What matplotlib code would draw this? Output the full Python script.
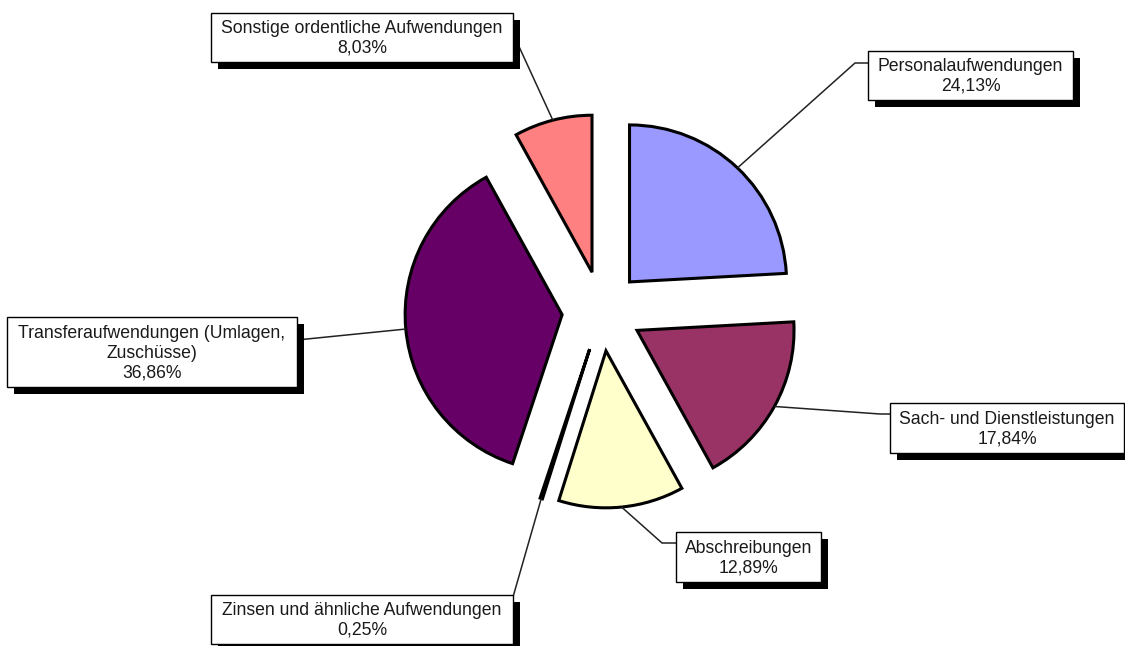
import matplotlib
matplotlib.use('Agg')
import matplotlib.pyplot as plt
from matplotlib.patches import Rectangle
import numpy as np

# ---- data ----
categories = ["Personalaufwendungen", "Sach- und Dienstleistungen", "Abschreibungen",
              "Zinsen und ähnliche Aufwendungen",
              "Transferaufwendungen (Umlagen,\nZuschüsse)",
              "Sonstige ordentliche Aufwendungen"]
values = [24.13, 17.84, 12.89, 0.25, 36.86, 8.03]
colors = ["#9999FF", "#993366", "#FFFFCC", "#CCFFFF", "#660066", "#FF8080"]

# ---- layout (pixels) ----
W, H = 1125, 646
CX, CY, R = 602, 311, 157
EXPLODE = 0.255
# label boxes: (x0, y0, x1, y1) in pixel coords (y down)
boxes = [(868, 51, 1073, 100), (890, 403, 1124, 453), (676, 532, 821, 582),
         (211, 595, 513, 644), (7, 317, 297, 387), (211, 13, 513, 62)]
via = [(855, 63), (880, 414), (662, 543), None, None, None]
ends = [(868, 63), (890, 414), (676, 543), (513, 597), (297, 340), (516, 40)]
SH = 7

fig = plt.figure(figsize=(W / 100, H / 100), dpi=100)
ax = fig.add_axes([0, 0, 1, 1])
wedges, _ = ax.pie(values, colors=colors, startangle=90, counterclock=False,
                   explode=[EXPLODE] * len(values), radius=1,
                   wedgeprops=dict(edgecolor='black', linewidth=2.2))
ax.set_aspect('auto')
ax.set_xlim(-CX / R, (W - CX) / R)
ax.set_ylim(-(H - CY) / R, CY / R)
ax.axis('off')

ax2 = fig.add_axes([0, 0, 1, 1])
ax2.set_xlim(0, W)
ax2.set_ylim(H, 0)
ax2.axis('off')
ax2.patch.set_alpha(0)

for i, w in enumerate(wedges):
    tm = np.deg2rad((w.theta1 + w.theta2) / 2)
    X = w.center[0] + w.r * np.cos(tm)
    Y = w.center[1] + w.r * np.sin(tm)
    px, py = CX + X * R, CY - Y * R
    pts = [(px, py)]
    if via[i] is not None:
        pts.append(via[i])
    pts.append(ends[i])
    xs, ys = zip(*pts)
    ax2.plot(xs, ys, color='#222222', lw=1.1, zorder=1, solid_capstyle='butt')

    x0, y0, x1, y1 = boxes[i]
    ax2.add_patch(Rectangle((x0 + SH, y0 + SH), x1 - x0, y1 - y0,
                            facecolor='black', edgecolor='none', zorder=2))
    ax2.add_patch(Rectangle((x0, y0), x1 - x0, y1 - y0,
                            facecolor='white', edgecolor='black', lw=1.0, zorder=3))
    pct = f"{values[i]:.2f}%".replace('.', ',')
    ax2.text((x0 + x1) / 2, (y0 + y1) / 2 + 1, categories[i] + "\n" + pct,
             ha='center', va='center', multialignment='center',
             fontsize=12.7, family='Liberation Sans', color='#1a1a1a', zorder=4)

fig.savefig('out.png', dpi=100)
